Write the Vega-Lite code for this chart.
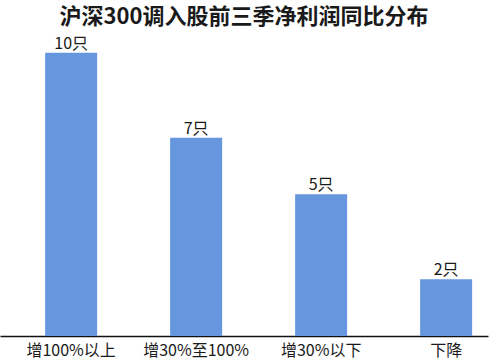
{
  "$schema": "https://vega.github.io/schema/vega-lite/v6.json",
  "width": 488,
  "height": 306,
  "autosize": {"type": "none"},
  "padding": {"left": 0, "top": 30, "right": 12, "bottom": 26},
  "background": "#ffffff",
  "title": {
    "text": "沪深300调入股前三季净利润同比分布",
    "font": "Noto Sans CJK SC",
    "fontSize": 22,
    "fontWeight": "bold",
    "color": "#1a1a1a",
    "anchor": "middle",
    "frame": "group",
    "offset": 1
  },
  "data": {
    "values": [
      {"category": "增100%以上", "count": 10, "label": "10只"},
      {"category": "增30%至100%", "count": 7, "label": "7只"},
      {"category": "增30%以下", "count": 5, "label": "5只"},
      {"category": "下降", "count": 2, "label": "2只"}
    ]
  },
  "encoding": {
    "x": {
      "field": "category",
      "type": "nominal",
      "sort": null,
      "scale": {"paddingInner": 0.584, "paddingOuter": 0.244, "align": 0.74},
      "axis": {
        "title": null,
        "labelAngle": 0,
        "labelFont": "Noto Sans CJK SC",
        "labelFontSize": 16,
        "labelColor": "#1a1a1a",
        "labelPadding": 6,
        "ticks": false,
        "domainColor": "#111111",
        "domainWidth": 1.5
      }
    },
    "y": {
      "field": "count",
      "type": "quantitative",
      "scale": {"domain": [0, 10.8]},
      "axis": null
    }
  },
  "layer": [
    {"mark": {"type": "bar", "color": "#6596de"}},
    {
      "mark": {
        "type": "text",
        "baseline": "bottom",
        "dy": -1,
        "font": "Noto Sans CJK SC",
        "fontSize": 16,
        "color": "#1a1a1a"
      },
      "encoding": {"text": {"field": "label", "type": "nominal"}}
    }
  ],
  "config": {"view": {"stroke": null}}
}
